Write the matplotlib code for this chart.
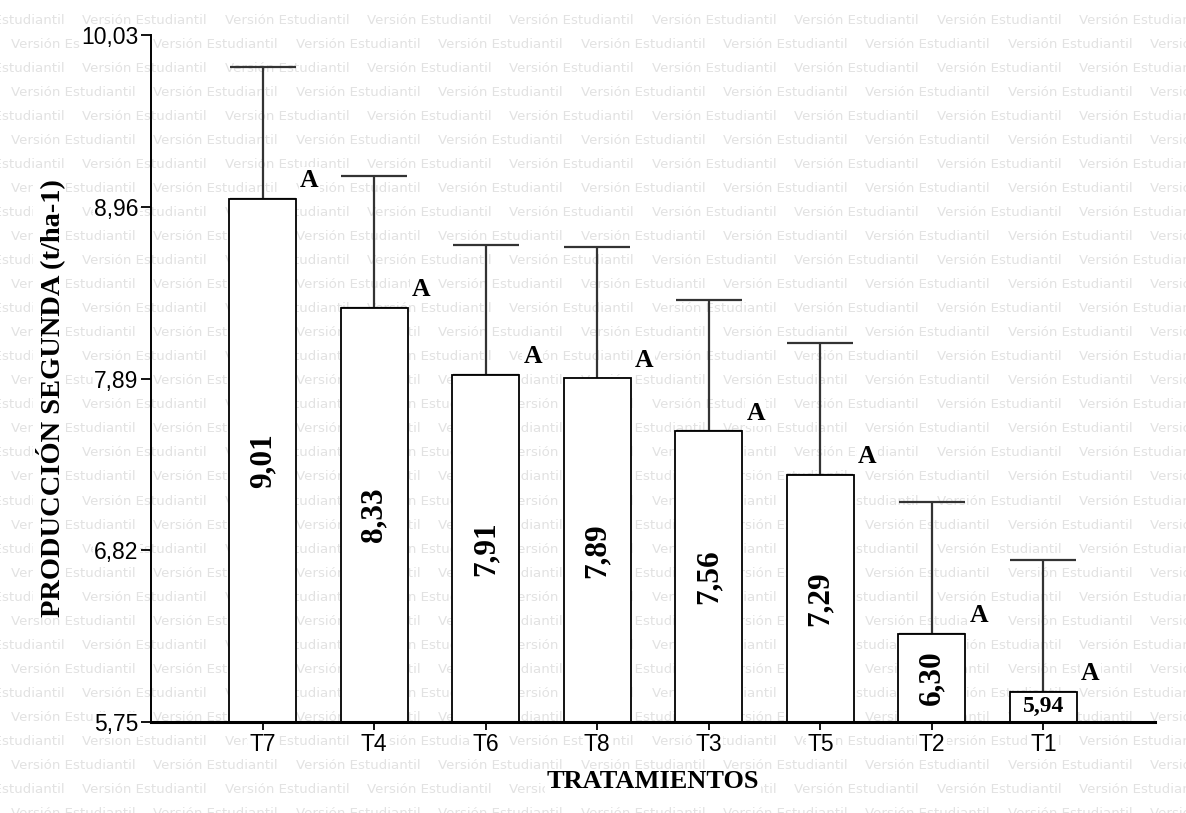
import matplotlib
matplotlib.use('Agg')
import matplotlib.pyplot as plt
import numpy as np

# datos de produccion por tratamiento (t/ha-1)
tratamientos = ['T7', 'T4', 'T6', 'T8', 'T3', 'T5', 'T2', 'T1']
medias = [9.01, 8.33, 7.91, 7.89, 7.56, 7.29, 6.30, 5.94]
errores = [0.82, 0.82, 0.81, 0.82, 0.82, 0.82, 0.82, 0.82]
letras = ['A', 'A', 'A', 'A', 'A', 'A', 'A', 'A']
yticks = [5.75, 6.82, 7.89, 8.96, 10.03]

W, H = 1186, 813
fig = plt.figure(figsize=(W / 100, H / 100), dpi=100)

# marca de agua de fondo
marca = 'Versión Estudiantil'
paso_x, paso_y = 142.4, 24.05
for k in range(35):
    y = 20 + k * paso_y
    x = 82.2 if k % 2 == 0 else 11.0
    x -= paso_x
    while x < W:
        fig.text(x / W, 1 - y / H, marca, fontsize=9.6, family='DejaVu Sans',
                 color='#e2e2e2', ha='left', va='center', zorder=-5)
        x += paso_x

ax = fig.add_axes([151 / W, 1 - 722 / H, (1155 - 151) / W, (722 - 35) / H])
ax.patch.set_alpha(0)

x = np.arange(len(tratamientos))
ax.bar(x, np.array(medias) - yticks[0], bottom=yticks[0], width=0.6,
       color='white', edgecolor='black', linewidth=1.3, zorder=2)
ax.errorbar(x, medias, yerr=[np.zeros(len(errores)), errores], fmt='none',
            ecolor='#333333', elinewidth=1.6, capsize=24, capthick=1.6, zorder=1)

fondo = dict(facecolor='white', edgecolor='none', pad=1)
for i, (v, l) in enumerate(zip(medias, letras)):
    alto = v - yticks[0]
    rot = 90 if alto > 0.4 else 0
    ax.text(i, yticks[0] + alto / 2, ('%.2f' % v).replace('.', ','),
            rotation=rot, ha='center', va='center', fontsize=22.5 if rot else 17,
            fontweight='bold', family='Liberation Serif', zorder=3)
    ax.annotate(l, xy=(i + 0.3, v), xytext=(3, 5), textcoords='offset points',
                ha='left', va='bottom', fontsize=18.5, fontweight='bold',
                family='Liberation Serif', bbox=fondo, zorder=3)

ax.set_xlim(-1, 8)
ax.set_ylim(yticks[0], yticks[-1])
ax.set_xticks(x)
ax.set_xticklabels(tratamientos)
ax.set_yticks(yticks)
ax.set_yticklabels([('%.2f' % t).replace('.', ',') for t in yticks])
for lab in ax.get_xticklabels() + ax.get_yticklabels():
    lab.set_family('Liberation Sans')
    lab.set_fontsize(16.5)
    lab.set_bbox(fondo)
ax.tick_params(axis='y', length=7, width=1.3, pad=2)
ax.tick_params(axis='x', length=6, width=1.3, pad=2)

ax.spines['top'].set_visible(False)
ax.spines['right'].set_visible(False)
ax.spines['left'].set_linewidth(1.4)
ax.spines['bottom'].set_linewidth(2.2)

ax.set_xlabel('TRATAMIENTOS', fontsize=19, fontweight='bold',
              family='Liberation Serif', labelpad=10, bbox=fondo)
ax.set_ylabel('PRODUCCIÓN SEGUNDA (t/ha-1)', fontsize=20.5, fontweight='bold',
              family='Liberation Serif', bbox=fondo)
ax.yaxis.set_label_coords(-0.086, 0.472)

fig.savefig('out.png', dpi=100)
